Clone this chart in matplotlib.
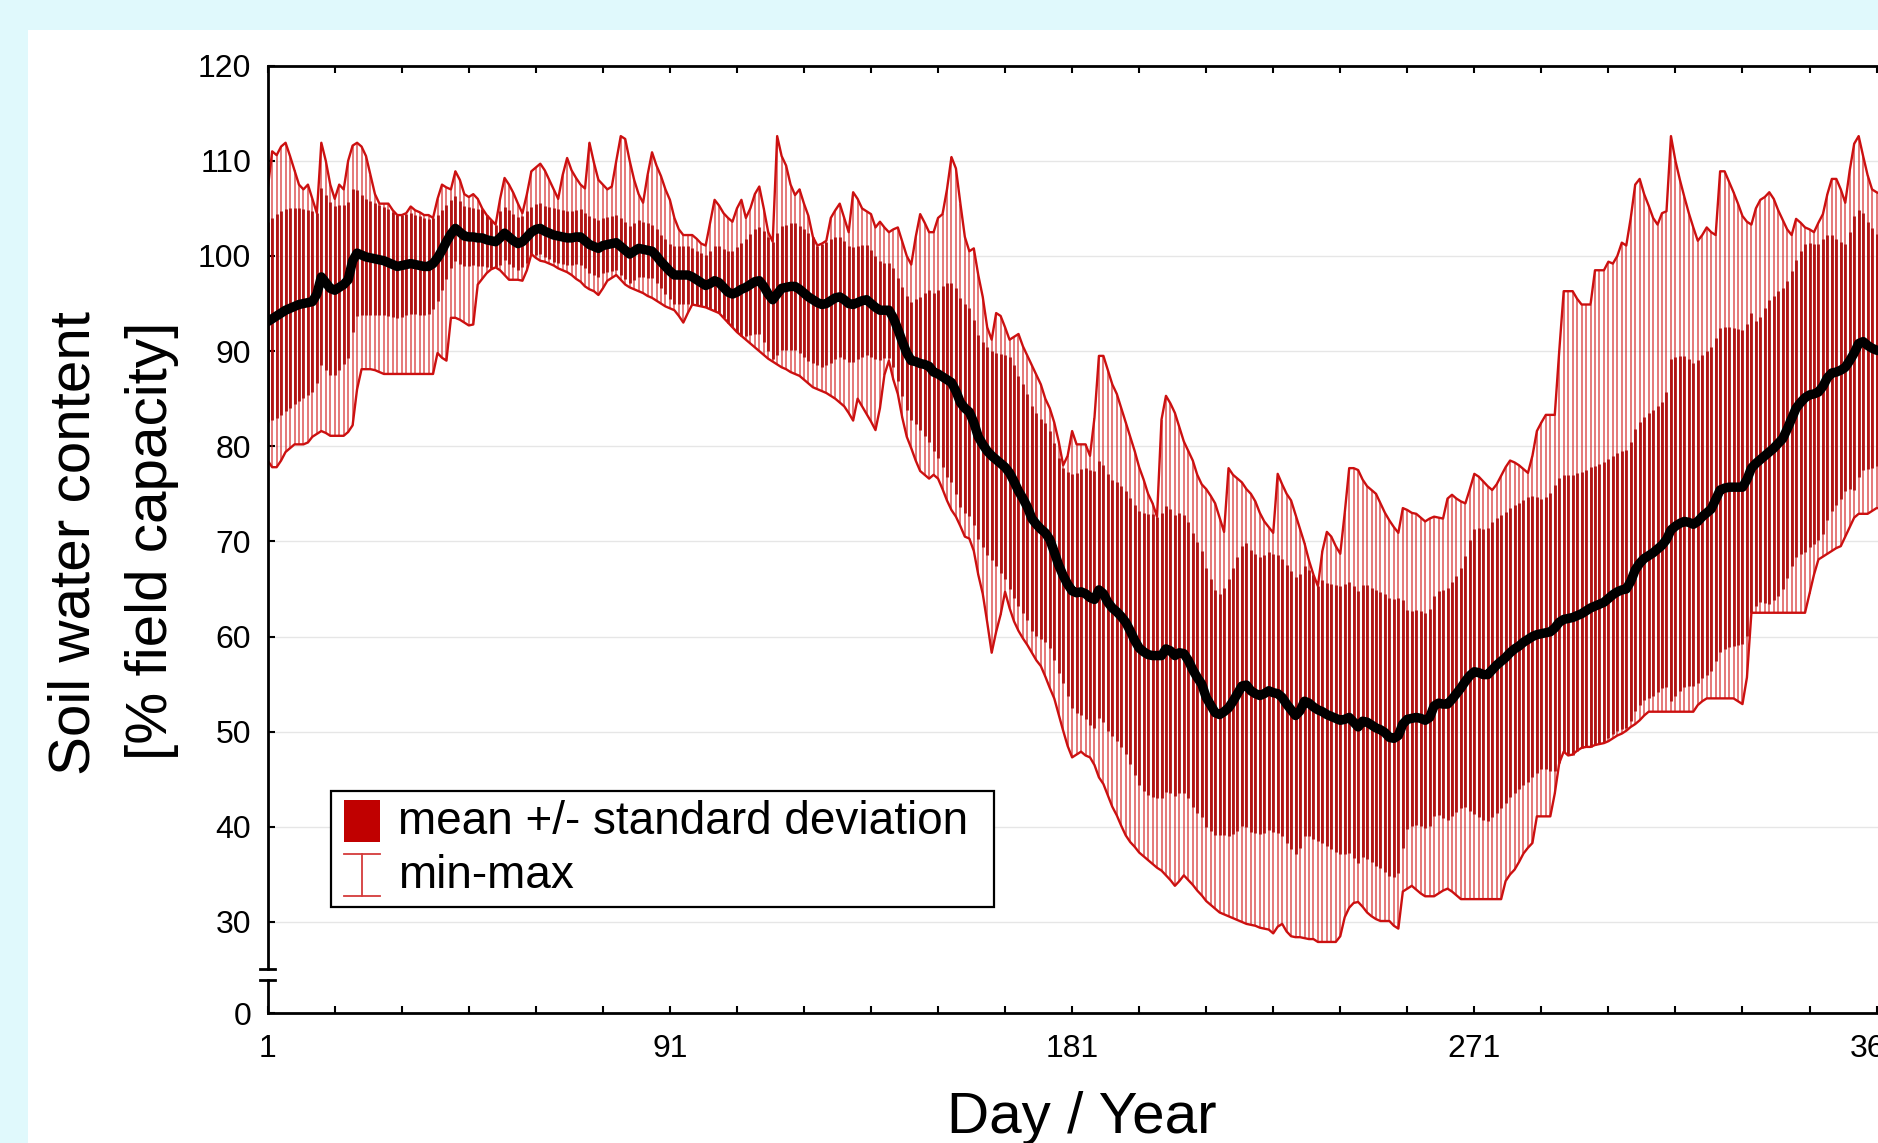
import numpy as np
import matplotlib
matplotlib.use("Agg")
import matplotlib.pyplot as plt
from matplotlib.patches import Rectangle
from matplotlib.lines import Line2D
import matplotlib.transforms as mtransforms

plt.rcParams['font.family'] = ['Liberation Sans', 'DejaVu Sans']

# ---------------- data ----------------
day_max = [
    107, 111, 110.6, 111.5, 111.9, 110.5, 109, 107.5, 107, 107.5,
    106, 104.5, 111.9, 110, 107.5, 106, 107.5, 107, 110, 111.6,
    111.9, 111.5, 110.5, 108.5, 106.5, 105.5, 105.5, 105.5, 104.8, 104.3,
    104.3, 104.5, 105.2, 104.8, 104.6, 104.3, 104.3, 104.0, 106, 107.5,
    107.2, 107, 108.9, 108, 106.5, 106.2, 106.5, 106, 105, 104.3,
    103.8, 103.3, 106, 108.2, 107.5, 106.6, 105.5, 104.5, 106.5, 108.9,
    109.3, 109.7, 109, 108, 107, 106, 108.5, 110.3, 109, 108.2,
    107.5, 107.1, 111.9, 109.8, 108, 107.5, 107, 107.3, 110, 112.6,
    112.3, 110, 108, 106.5, 105.6, 108.5, 110.9, 109.5, 108.4, 107,
    105.9, 104, 102.8, 102.2, 102.2, 102.2, 101.8, 101.3, 101.1, 103.5,
    105.9, 105.3, 104.5, 104, 103.6, 105, 105.9, 104, 105, 106.5,
    107.3, 105, 102.5, 101.5, 112.6, 110.5, 109.5, 107.5, 106.4, 107,
    105.5, 104.2, 102, 101.1, 101.3, 101.6, 104, 104.8, 105.5, 104,
    102.5, 106.7, 106, 105, 104.7, 104.4, 103, 103.6, 103, 102.5,
    102.8, 103, 101.5, 100, 99.1, 102, 104.4, 103.5, 102.5, 102.5,
    104, 104.4, 107, 110.4, 109.2, 105.5, 102, 100.5, 100.8, 98,
    95.7, 92.5, 91.2, 94, 93.7, 92.5, 91.2, 91.5, 91.8, 90.5,
    89.5, 88.5, 87.5, 86.5, 85, 84, 82.5, 80.5, 78, 79,
    81.6, 80.2, 80.2, 80.2, 79, 83, 89.5, 89.5, 88, 86.5,
    85.5, 84, 82.5, 81, 79.5, 77.8, 76.5, 75, 74, 72.6,
    82.8, 85.3, 84.5, 83.5, 82, 80.5, 79.5, 78.5, 77, 76,
    75.5, 74.8, 74, 72.5, 71, 77.7, 77, 76.6, 76.2, 75.5,
    75, 74.2, 73, 72.1, 71.5, 70.9, 77.1, 76, 75, 74.3,
    72.8, 71.3, 69.8, 68, 66.5, 65.3, 69, 71, 70.5, 69.5,
    68.7, 73, 77.7, 77.7, 77.5, 76.5, 75.8, 75.4, 75, 74,
    73, 72.2, 71.5, 70.9, 73.5, 73.3, 73, 72.9, 72.5, 72.1,
    72.4, 72.6, 72.5, 72.4, 74.5, 74.9, 74.5, 74.2, 74, 75.5,
    77.1, 76.8, 76.3, 75.8, 75.4, 76, 76.9, 77.8, 78.5, 78.3,
    78, 77.6, 77.2, 79, 81.6, 82.5, 83.3, 83.3, 83.3, 90,
    96.3, 96.3, 96.3, 95.5, 94.9, 94.9, 94.9, 98.5, 98.5, 98.5,
    99.4, 99.2, 100, 101.4, 101.1, 104, 107.5, 108.1, 106.5, 105.3,
    104, 103.3, 104.5, 104.7, 112.6, 110, 108, 106.2, 104.5, 103,
    101.6, 102.2, 103, 102.5, 102.2, 108.9, 108.9, 107.8, 106.7, 105.5,
    104.2, 103.6, 103.3, 105, 105.9, 106.2, 106.7, 106, 104.8, 103.8,
    102.8, 102.2, 103.9, 103.5, 103, 102.8, 102.5, 103.5, 104.4, 106.5,
    108.1, 108.1, 107, 105.6, 109, 111.8, 112.6, 110.5, 108.5, 107,
    106.7, 106.5, 107, 107.5, 107,
]

day_mean = [
    93.1, 93.4, 93.7, 94.0, 94.3, 94.5, 94.7, 94.9, 95.0, 95.1,
    95.2, 96.0, 97.8, 97.2, 96.6, 96.4, 96.7, 97.0, 97.5, 99.5,
    100.3, 100.1, 99.9, 99.8, 99.7, 99.6, 99.5, 99.3, 99.1, 98.9,
    99.0, 99.1, 99.2, 99.1, 99.0, 98.9, 98.9, 99.2, 99.8, 100.6,
    101.5, 102.3, 102.9, 102.5, 102.1, 102.0, 102.0, 101.9, 101.9, 101.7,
    101.6, 101.5, 101.9, 102.4, 102.0, 101.6, 101.3, 101.5, 102.0, 102.5,
    102.8, 102.9, 102.6, 102.4, 102.2, 102.1, 102.0, 101.9, 101.9, 102.0,
    102.0, 101.6, 101.2, 101.0, 100.8, 101.1, 101.2, 101.3, 101.4, 101.0,
    100.6, 100.2, 100.5, 100.8, 100.7, 100.6, 100.5, 100.0, 99.4, 98.9,
    98.4, 98.0, 98.0, 98.0, 98.0, 97.8, 97.5, 97.2, 96.9, 97.1,
    97.4, 97.2, 96.7, 96.2, 96.0, 96.2, 96.5, 96.7, 97.0, 97.3,
    97.4, 96.8, 96.0, 95.4, 96.0, 96.6, 96.7, 96.8, 96.8, 96.5,
    96.1, 95.7, 95.4, 95.1, 94.9, 95.0, 95.3, 95.6, 95.7, 95.4,
    95.0, 94.9, 95.1, 95.3, 95.4, 95.0, 94.6, 94.3, 94.3, 94.3,
    93.5, 92.3, 91.0, 89.8, 89.0, 88.9, 88.7, 88.6, 88.4, 87.8,
    87.6, 87.3, 87.0, 86.7, 85.8, 84.6, 84.0, 83.6, 82.5, 81.0,
    80.2, 79.5, 79.0, 78.6, 78.2, 77.8, 77.2, 76.3, 75.3, 74.5,
    73.6, 72.4, 71.8, 71.3, 70.9, 70.2, 68.9, 67.5, 66.4, 65.5,
    64.8, 64.6, 64.7, 64.5, 64.1, 63.9, 64.9, 64.5, 63.6, 63.0,
    62.6, 62.1, 61.5, 60.6, 59.6, 58.8, 58.4, 58.1, 58.0, 58.0,
    58.0, 58.7, 58.5, 58.0, 58.3, 58.2, 57.5, 56.5, 55.7, 55.0,
    53.6, 52.8, 52.0, 51.8, 52.1, 52.5, 53.2, 54.0, 54.8, 54.9,
    54.3, 54.0, 53.8, 54.0, 54.3, 54.1, 54.0, 53.6, 52.9, 52.3,
    51.7, 52.2, 53.2, 53.0, 52.6, 52.3, 52.1, 51.8, 51.6, 51.4,
    51.2, 51.3, 51.5, 51.0, 50.5, 51.1, 51.0, 50.7, 50.4, 50.2,
    49.9, 49.4, 49.3, 49.6, 50.8, 51.3, 51.4, 51.5, 51.4, 51.2,
    51.5, 52.7, 53.0, 52.9, 52.9, 53.4, 54.0, 54.6, 55.3, 55.9,
    56.3, 56.2, 56.0, 56.0, 56.5, 57.0, 57.4, 57.8, 58.3, 58.7,
    59.0, 59.4, 59.7, 60.0, 60.2, 60.3, 60.4, 60.5, 60.9, 61.5,
    61.8, 61.9, 62.0, 62.2, 62.4, 62.7, 63.0, 63.2, 63.4, 63.6,
    64.0, 64.4, 64.7, 64.9, 65.0, 65.8, 67.0, 67.7, 68.2, 68.5,
    68.8, 69.2, 69.6, 70.2, 71.2, 71.6, 71.9, 72.1, 72.0, 71.8,
    72.1, 72.6, 73.0, 73.4, 74.4, 75.4, 75.6, 75.7, 75.7, 75.7,
    75.7, 76.5, 77.7, 78.2, 78.6, 79.0, 79.4, 79.8, 80.3, 80.8,
    81.8, 82.9, 84.0, 84.6, 85.1, 85.4, 85.5, 85.7, 86.3, 87.2,
    87.7, 87.8, 88.0, 88.3, 89.0, 89.8, 90.8, 91.0, 90.6, 90.3,
    90.1, 90.0, 90.2, 90.5, 90.8,
]

day_min = [
    78.5, 77.8, 77.8, 78.5, 79.4, 79.8, 80.2, 80.2, 80.2, 80.4,
    81.0, 81.3, 81.6, 81.4, 81.1, 81.1, 81.1, 81.1, 81.5, 82.2,
    86.0, 88.1, 88.1, 88.1, 88.0, 87.8, 87.6, 87.6, 87.6, 87.6,
    87.6, 87.6, 87.6, 87.6, 87.6, 87.6, 87.6, 87.6, 89.8, 89.3,
    89.0, 93.5, 93.5, 93.3, 93.0, 92.7, 92.8, 97.0, 97.6, 98.2,
    98.6, 98.8, 98.5, 98.0, 97.5, 97.5, 97.5, 97.4, 98.5, 100.2,
    99.8, 99.5, 99.4, 99.2, 99.0, 98.7, 98.5, 98.3, 98.0, 97.6,
    97.3, 96.8, 96.5, 96.3, 95.9, 96.6, 97.4, 97.7, 98.0, 97.5,
    97.0, 96.7, 96.5, 96.3, 96.1, 95.8, 95.6, 95.3, 95.0, 94.7,
    94.5, 94.3, 93.7, 93.0, 94.0, 94.9, 94.8, 94.7, 94.6, 94.4,
    94.2, 94.0, 93.5, 93.0, 92.5, 92.0, 91.6, 91.2, 90.8, 90.4,
    90.0, 89.6, 89.2, 88.9, 88.6, 88.3, 88.1, 87.8, 87.6, 87.4,
    87.0, 86.6, 86.2, 86.0, 85.8, 85.6, 85.3, 85.0, 84.6, 84.2,
    83.5, 82.7, 85.0, 84.2, 83.4, 82.6, 81.7, 84.0, 87.5, 89.0,
    87.0, 85.5, 83.0, 81.0, 79.8, 78.5, 77.4, 77.0, 76.6, 77.0,
    76.6, 75.5, 74.3, 73.3, 72.6, 71.6, 70.5, 70.3, 69.0, 66.5,
    64.5, 61.5, 58.3, 60.5, 62.3, 64.7, 63.0, 61.6, 60.6, 59.8,
    59.1, 58.3, 57.5, 56.9, 55.8, 54.6, 53.5, 51.8, 50.1, 48.5,
    47.3, 47.6, 47.9, 47.5, 47.3, 46.5, 45.2, 44.5, 43.3, 42.1,
    41.2, 40.1, 39.1, 38.4, 37.9, 37.3, 36.9, 36.5, 36.1, 35.7,
    35.4, 34.9, 34.4, 33.8, 34.3, 34.9, 34.4, 33.9, 33.3, 32.8,
    32.2, 31.8, 31.4, 31.0, 30.8, 30.6, 30.4, 30.2, 30.0, 29.8,
    29.7, 29.6, 29.4, 29.3, 29.2, 28.8, 29.5, 29.8, 29.0, 28.5,
    28.4, 28.4, 28.3, 28.2, 28.2, 27.9, 27.9, 27.9, 27.9, 27.9,
    28.5, 30.5, 31.5, 32.0, 32.1, 31.6, 31.0, 30.6, 30.3, 30.1,
    30.1, 30.1, 29.6, 29.3, 33.2, 33.5, 33.8, 33.4, 33.0, 32.7,
    32.7, 32.7, 33.0, 33.3, 33.5, 33.2, 32.8, 32.4, 32.4, 32.4,
    32.4, 32.4, 32.4, 32.4, 32.4, 32.4, 32.4, 34.3, 35.0, 35.5,
    36.3, 37.2, 37.8, 38.3, 41.1, 41.1, 41.1, 41.1, 43.5, 46.7,
    47.9, 47.5, 47.6, 48.0, 48.3, 48.4, 48.4, 48.6, 48.7, 48.8,
    49.0, 49.3, 49.6, 49.8, 50.1, 50.5, 50.8, 51.2, 51.7, 52.1,
    52.1, 52.1, 52.1, 52.1, 52.1, 52.1, 52.1, 52.1, 52.1, 52.1,
    52.8, 53.2, 53.5, 53.5, 53.5, 53.5, 53.5, 53.5, 53.5, 53.2,
    52.9, 55.7, 62.5, 62.5, 62.5, 62.5, 62.5, 62.5, 62.5, 62.5,
    62.5, 62.5, 62.5, 62.5, 62.5, 64.5, 66.5, 68.1, 68.4, 68.7,
    69.0, 69.3, 69.5, 70.5, 71.5, 72.5, 72.9, 72.9, 72.9, 73.2,
    73.5, 73.5, 73.5, 73.5, 73.5,
]

day_sd = [
    10.5, 10.6, 10.7, 10.7, 10.6, 10.5, 10.3, 10.1, 9.9, 9.7,
    9.5, 9.4, 9.3, 9.2, 9.1, 8.9, 8.7, 8.4, 8.2, 7.5,
    6.6, 6.3, 6.1, 6.0, 5.9, 5.8, 5.7, 5.6, 5.5, 5.4,
    5.4, 5.3, 5.3, 5.2, 5.2, 5.1, 5.0, 4.8, 4.5, 4.2,
    3.9, 3.6, 3.4, 3.3, 3.2, 3.1, 3.0, 3.0, 3.0, 2.9,
    2.9, 2.9, 2.8, 2.8, 2.8, 2.8, 2.8, 2.7, 2.7, 2.7,
    2.7, 2.7, 2.7, 2.7, 2.8, 2.8, 2.8, 2.8, 2.8, 2.8,
    2.9, 2.9, 3.0, 3.0, 3.0, 2.9, 2.9, 2.9, 2.9, 3.0,
    3.0, 3.0, 3.0, 3.0, 2.9, 2.9, 2.8, 2.8, 2.8, 2.9,
    2.9, 3.0, 3.0, 3.0, 3.0, 3.0, 3.0, 3.1, 3.2, 3.4,
    3.6, 3.8, 4.0, 4.3, 4.5, 4.7, 4.9, 5.1, 5.3, 5.5,
    5.6, 5.8, 6.0, 6.2, 6.4, 6.5, 6.6, 6.7, 6.7, 6.7,
    6.7, 6.7, 6.6, 6.6, 6.6, 6.5, 6.5, 6.4, 6.3, 6.2,
    6.1, 6.0, 5.9, 5.9, 5.8, 5.6, 5.4, 5.2, 5.0, 5.0,
    5.2, 5.4, 5.7, 6.0, 6.2, 6.6, 7.0, 7.5, 8.0, 8.3,
    8.8, 9.5, 10.2, 10.5, 10.8, 11.0, 11.0, 10.9, 10.8, 10.7,
    10.8, 10.9, 11.0, 11.2, 11.5, 11.8, 12.2, 12.2, 12.1, 12.0,
    11.9, 11.8, 11.7, 11.6, 11.5, 11.4, 11.4, 11.3, 11.3, 11.8,
    12.3, 12.6, 12.9, 13.2, 13.4, 13.5, 13.5, 13.5, 13.5, 13.5,
    13.6, 13.7, 13.8, 14.0, 14.2, 14.4, 14.6, 14.8, 14.9, 15.0,
    15.0, 15.0, 14.9, 14.8, 14.7, 14.6, 14.5, 14.4, 14.2, 14.0,
    13.6, 13.2, 12.9, 12.7, 13.0, 13.5, 14.0, 14.4, 14.7, 14.9,
    14.8, 14.7, 14.6, 14.6, 14.6, 14.6, 14.6, 14.6, 14.6, 14.6,
    14.6, 14.4, 14.2, 14.0, 13.9, 13.8, 13.8, 13.8, 13.9, 14.0,
    14.1, 14.2, 14.2, 14.3, 14.3, 14.3, 14.4, 14.4, 14.5, 14.5,
    14.6, 14.6, 14.6, 14.5, 13.0, 11.5, 11.3, 11.3, 11.3, 11.3,
    11.4, 11.6, 11.8, 12.0, 12.2, 12.3, 12.4, 12.6, 13.2, 14.2,
    15.0, 15.2, 15.3, 15.4, 15.5, 15.5, 15.4, 15.3, 15.2, 15.1,
    15.0, 15.0, 15.0, 14.8, 14.5, 14.2, 14.3, 14.6, 15.0, 15.2,
    15.2, 15.1, 15.0, 15.0, 14.9, 14.8, 14.8, 14.7, 14.7, 14.7,
    14.7, 14.6, 14.6, 14.6, 14.6, 14.7, 14.8, 14.9, 14.9, 15.0,
    15.0, 15.0, 15.0, 15.5, 18.0, 17.8, 17.6, 17.4, 17.2, 17.0,
    17.0, 17.0, 17.0, 17.0, 17.0, 17.0, 16.9, 16.8, 16.7, 16.6,
    16.5, 16.4, 16.3, 15.0, 15.0, 15.5, 16.0, 16.0, 16.0, 15.8,
    15.6, 15.5, 15.6, 15.9, 16.2, 16.0, 15.8, 15.6, 15.5, 15.0,
    14.5, 14.0, 13.5, 13.0, 13.5, 14.4, 14.0, 13.5, 13.0, 12.6,
    12.2, 12.0, 12.0, 12.0, 12.0,
]

x_major_ticks = [1, 91, 181, 271, 361]
x_minor_ticks = list(range(16, 361, 15))
y_tick_values = [30, 40, 50, 60, 70, 80, 90, 100, 110, 120]
y_zero_pos = 20.4          # where "0" sits on the broken axis
legend_labels = ["mean +/- standard deviation", "min-max"]

# ---------------- derived arrays ----------------
n = min(len(day_max), len(day_mean), len(day_min), len(day_sd))
days = np.arange(1, n + 1)
mx = np.array(day_max[:n], float)
mn = np.array(day_min[:n], float)
mean = np.array(day_mean[:n], float)
sd = np.array(day_sd[:n], float)
hi = np.minimum(mean + sd, mx)
lo = np.maximum(mean - sd, mn)

W, H = 1878, 1143
fig = plt.figure(figsize=(W / 100, H / 100), dpi=100)
fig.patch.set_facecolor('#e0f9fc')
fig.patches.append(Rectangle((28 / W, 0), 1, 1 - 30 / H, transform=fig.transFigure,
                             facecolor='white', edgecolor='none', zorder=-5))

left = 267.7 / W
bottom = (H - 1013.3) / H
top = 1 - 65.7 / H
width = (365 * 4.469) / W
ax = fig.add_axes([left, bottom, width, top - bottom])
ax.set_facecolor('white')
ax.set_zorder(1)

# grid
for v in y_tick_values[:-1]:
    ax.axhline(v, color='#e6e6e6', lw=1.0, zorder=1)

# min-max thin bars
ax.vlines(days, mn, mx, colors='#d42020', linewidth=1.35, alpha=0.62, zorder=2)
# mean +/- sd bars
ax.vlines(days, lo, hi, colors='#a80000', linewidth=2.1, alpha=0.85, zorder=3)
# envelopes
ax.plot(days, mx, color='#cc1010', lw=1.7, zorder=4)
ax.plot(days, mn, color='#cc1010', lw=1.7, zorder=4)
# mean
ax.plot(days, mean, color='black', lw=6.8, zorder=5, solid_joinstyle='round',
        solid_capstyle='round')

ax.set_xlim(1, 366)
ax.set_ylim(y_zero_pos, 120)

ax.set_xticks(x_major_ticks)
ax.set_xticklabels([str(t) for t in x_major_ticks])
ax.set_xticks(x_minor_ticks, minor=True)
ax.set_yticks([y_zero_pos] + y_tick_values)
ax.set_yticklabels(['0'] + [str(v) for v in y_tick_values])

ax.tick_params(axis='both', which='both', direction='in', length=5, width=1.5,
               top=True, right=True, labelsize=23, colors='black')
ax.tick_params(axis='x', which='both', pad=15)
ax.tick_params(axis='y', which='both', pad=12)

for s in ['top', 'bottom', 'right']:
    ax.spines[s].set_linewidth(2.0)
ax.spines['left'].set_visible(False)

# broken left axis
trans = mtransforms.blended_transform_factory(ax.transAxes, ax.transData)
capw = 7.5 / (width * W)
brk_hi, brk_lo = 25.05, 23.85
for (y0, y1) in [(brk_hi, 120), (y_zero_pos, brk_lo)]:
    ax.add_line(Line2D([0, 0], [y0, y1], transform=trans, color='black', lw=2.0,
                       clip_on=False, zorder=6))
for yb in (brk_hi, brk_lo):
    ax.add_line(Line2D([-capw, capw], [yb, yb], transform=trans, color='black', lw=2.0,
                       clip_on=False, zorder=6))

# axis labels
fig.text(75 / W, 1 - 543 / H, "Soil water content", rotation=90, ha='center', va='center',
         fontsize=42)
fig.text(152 / W, 1 - 541 / H, "[% field capacity]", rotation=90, ha='center', va='center',
         fontsize=42)
fig.text(1082 / W, 1 - 1133 / H, "Day / Year", ha='center', va='baseline', fontsize=42)

# legend (drawn manually, on top of the axes)
def fx(px):
    return px / W

def fy(py):
    return 1 - py / H

fig.patches.append(Rectangle((fx(330.6), fy(906.7)), (994 - 330.6) / W, (906.7 - 790.5) / H,
                             transform=fig.transFigure, facecolor='white',
                             edgecolor='black', lw=1.6, zorder=20))
fig.patches.append(Rectangle((fx(343.7), fy(842)), (379.7 - 343.7) / W, (842 - 800) / H,
                             transform=fig.transFigure, facecolor='#c00000',
                             edgecolor='none', zorder=21))
eb_col = '#d43a3a'
fig.lines.append(Line2D([fx(361.7), fx(361.7)], [fy(854), fy(896)], transform=fig.transFigure,
                        color=eb_col, lw=1.3, zorder=21))
for yy in (854, 896):
    fig.lines.append(Line2D([fx(343.7), fx(379.7)], [fy(yy), fy(yy)], transform=fig.transFigure,
                            color=eb_col, lw=1.3, zorder=21))
fig.text(fx(397.6), fy(822), legend_labels[0], ha='left', va='center', fontsize=33, zorder=22)
fig.text(fx(397.6), fy(876), legend_labels[1], ha='left', va='center', fontsize=33, zorder=22)

fig.savefig("out.png", dpi=100, facecolor=fig.get_facecolor())
